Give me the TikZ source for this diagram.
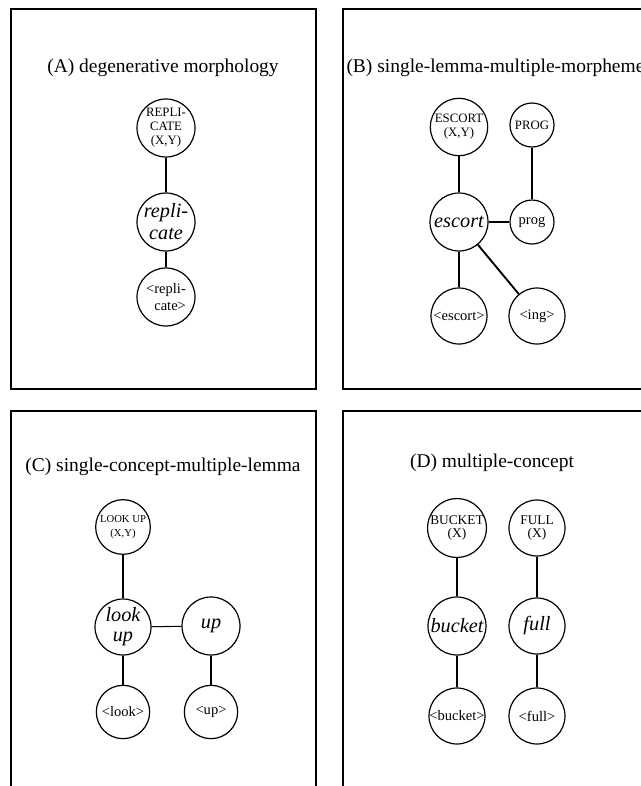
\documentclass[tikz,border=0pt]{standalone}
\usepackage{fontspec}
\setmainfont{Liberation Serif}

\tikzset{every picture/.style={line width=0.75pt}}
\tikzset{
  panel/.style={line width=1.1pt},
  title/.style={font=\fontsize{14.6}{17}\selectfont},
  node circ/.style={circle,draw,line width=0.9pt,inner sep=0pt,align=center},
  concept/.style={node circ,font=\fontsize{9.6}{10.6}\selectfont},
  lemma/.style={node circ,font=\fontsize{15.2}{16.5}\selectfont\itshape},
  form/.style={node circ,font=\fontsize{10.9}{13}\selectfont},
  thinlink/.style={line width=0.8pt},
  thicklink/.style={line width=1.4pt}
}

\begin{document}
\begin{tikzpicture}[x=0.75pt,y=0.75pt,yscale=-1,xscale=1]
\useasboundingbox (0,0) rectangle (640,786);

%Shape: Rectangle [panel A]
\draw [panel]  (11,9) -- (316,9) -- (316,389) -- (11,389) -- cycle ;
%Shape: Rectangle [panel B]
\draw [panel]  (660,9) -- (343,9) -- (343,389) -- (660,389) ;
%Shape: Rectangle [panel C]
\draw [panel]  (11,800) -- (11,411) -- (316,411) -- (316,800) ;
%Shape: Rectangle [panel D]
\draw [panel]  (343,800) -- (343,411) -- (660,411) ;

% Text Node
\node [title] (titleA) at (163,68) {(A) degenerative morphology};
% Text Node
\node [title,anchor=west,inner sep=0pt] (titleB) at (346,68) {(B) single-lemma-multiple-morpheme};
% Text Node
\node [title] (titleC) at (163,467) {(C) single-concept-multiple-lemma};
% Text Node
\node [title] (titleD) at (492,463) {(D) multiple-concept};

% (A) nodes
\node [concept,minimum size=43.5pt] (repC) at (166,128) {REPLI-\\CATE\\(X,Y)};
\node [lemma,minimum size=43.5pt] (repL) at (166,222) {repli-\\cate};
\node [form,minimum size=43.5pt] (repF) at (166,297) {\fontsize{10.9}{13.5}\selectfont<repli-\\\hphantom{<}cate>};

% (B) nodes
\node [concept,minimum size=43pt] (escC) at (459,127) {ESCORT\\(X,Y)};
\node [concept,minimum size=33pt] (progC) at (532,125) {PROG};
\node [lemma,minimum size=43.5pt] (escL) at (459,222) {escort};
\node [form,minimum size=33pt] (progL) at (532,222) {prog};
\node [form,minimum size=42pt] (escF) at (459,316) {<escort>};
\node [form,minimum size=42pt] (ingF) at (537,316) {<ing>};

% (C) nodes
\node [concept,minimum size=41pt,font=\fontsize{8}{10}\selectfont] (lookC) at (123,527) {LOOK UP\\(X,Y)};
\node [lemma,minimum size=42pt,font=\fontsize{15.2}{15}\selectfont\itshape] (lookL) at (123,627) {look\\up};
\node [lemma,minimum size=43.5pt] (upL) at (211,626) {up};
\node [form,minimum size=40pt] (lookF) at (123,712) {<look>};
\node [form,minimum size=40pt] (upF) at (211,712) {<up>};

% (D) nodes
\node [concept,minimum size=43.5pt,font=\fontsize{10}{10}\selectfont] (bucketC) at (457,528) {BUCKET\\(X)};
\node [concept,minimum size=42pt,font=\fontsize{10}{10}\selectfont] (fullC) at (537,528) {FULL\\(X)};
\node [lemma,minimum size=43.5pt] (bucketL) at (457,626) {bucket};
\node [lemma,minimum size=42pt] (fullL) at (537,626) {full};
\node [form,minimum size=42pt] (bucketF) at (457,716) {<bucket>};
\node [form,minimum size=42pt] (fullF) at (537,716) {<full>};

%Straight Lines
\draw [thicklink] (repC) -- (repL) ;
\draw [thinlink] (repL) -- (repF) ;
\draw [thicklink] (escC) -- (escL) ;
\draw [thinlink] (progC) -- (progL) ;
\draw [thinlink] (escL) -- (progL) ;
\draw [thinlink] (escL) -- (escF) ;
\draw [thicklink] (escL) -- (ingF) ;
\draw [thinlink] (lookC) -- (lookL) ;
\draw [thinlink] (lookL) -- (upL) ;
\draw [thinlink] (lookL) -- (lookF) ;
\draw [thicklink] (upL) -- (upF) ;
\draw [thicklink] (bucketC) -- (bucketL) ;
\draw [thicklink] (bucketL) -- (bucketF) ;
\draw [thinlink] (fullC) -- (fullL) ;
\draw [thinlink] (fullL) -- (fullF) ;

\end{tikzpicture}
\end{document}
